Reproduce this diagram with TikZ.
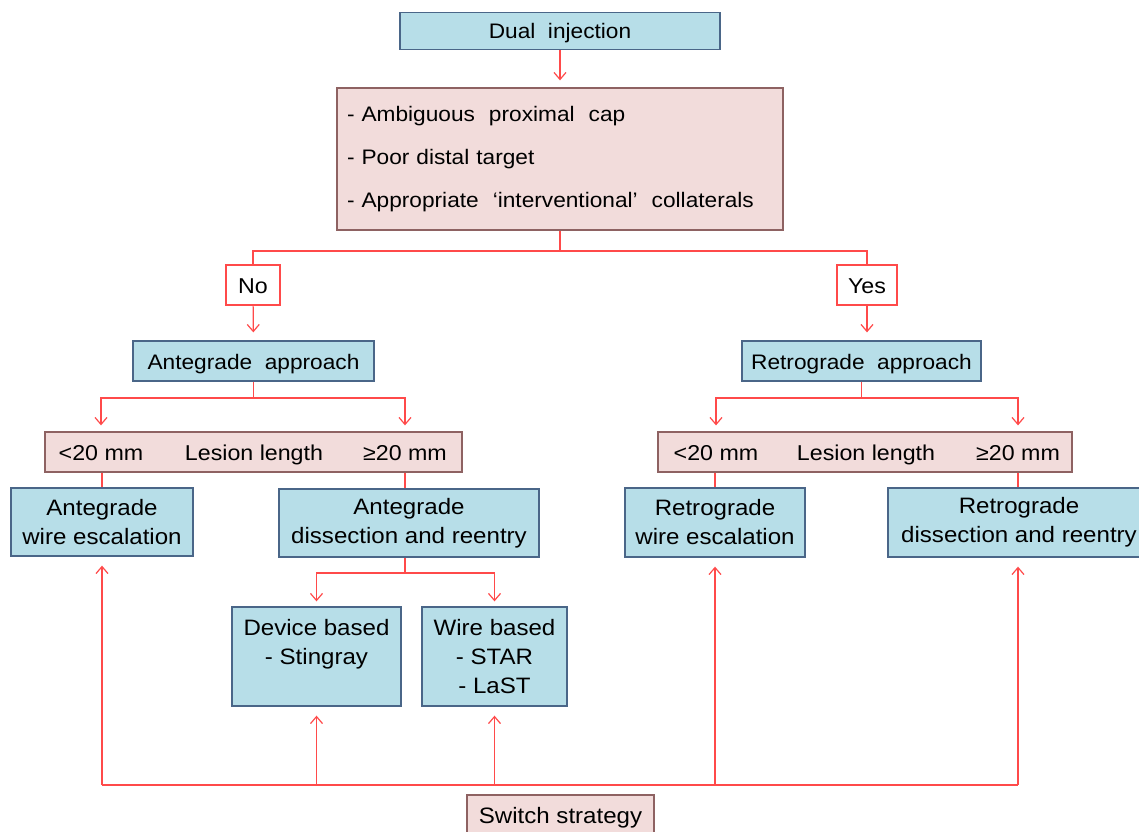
\documentclass[tikz,border=0pt]{standalone}
\usepackage{fontspec}
\setmainfont{Liberation Sans}[FakeStretch=1.08]
\usetikzlibrary{arrows.meta}
\definecolor{bfill}{HTML}{B7DEE8}
\definecolor{bdraw}{HTML}{4A6688}
\definecolor{pfill}{HTML}{F2DCDB}
\definecolor{pdraw}{HTML}{8E6262}
\definecolor{lred}{HTML}{FF4A4A}
\begin{document}
\begin{tikzpicture}[x=1pt,y=-1pt,
  every node/.style={font=\fontsize{21.5}{29}\selectfont, inner sep=0pt, text=black},
  big/.style={font=\fontsize{22.3}{29}\selectfont},
  small/.style={font=\fontsize{21}{29}\selectfont},
  bbox/.style={draw=bdraw, fill=bfill, line width=1.3pt, align=center},
  pbox/.style={draw=pdraw, fill=pfill, line width=1.3pt},
  rbox/.style={draw=lred, fill=white, line width=1.1pt},
  ln/.style={draw=lred, line width=1.2pt},
  arr/.style={ln, -{Straight Barb[length=7pt,width=12pt]}},
  lbl/.style={anchor=base},
]
\useasboundingbox (0,0) rectangle (1139,831);

% nodes
\node[bbox, small, minimum width=320pt, minimum height=37pt] (dual) at (560,31) {};
\node[lbl, small] (dualt) at (560,38) {Dual\ \ injection};
\node[pbox, minimum width=446pt, minimum height=142pt, text width=426pt, align=left,
      font=\fontsize{21}{43}\selectfont] (crit) at (560,159)
  {- Ambiguous\ \ proximal\ \ cap\\- Poor distal target\\- Appropriate\ \ ‘interventional’\ \ collaterals};
\node[rbox, minimum width=54pt, minimum height=40pt] (no) at (253,285) {};
\node[lbl] (not) at (253,293) {No};
\node[rbox, minimum width=60pt, minimum height=40pt] (yes) at (867,285) {};
\node[lbl] (yest) at (867,293) {Yes};
\node[bbox, minimum width=241pt, minimum height=40pt] (ante) at (253.5,361) {};
\node[lbl, small] (antet) at (253.5,369) {Antegrade\ \ approach};
\node[bbox, minimum width=239pt, minimum height=40pt] (retro) at (861.5,361) {};
\node[lbl, small] (retrot) at (861.5,369) {Retrograde\ \ approach};

\node[pbox, minimum width=417pt, minimum height=40pt] (lesL) at (253.5,452) {};
\node[lbl] (lesLa) at (101,460) {<20 mm};
\node[lbl] (lesLb) at (254,460) {Lesion length};
\node[lbl] (lesLc) at (405,460) {≥20 mm};
\node[pbox, minimum width=414pt, minimum height=40pt] (lesR) at (865,452) {};
\node[lbl] (lesRa) at (716,460) {<20 mm};
\node[lbl] (lesRb) at (866,460) {Lesion length};
\node[lbl] (lesRc) at (1018,460) {≥20 mm};

\node[bbox, big, minimum width=182pt, minimum height=68pt] (awe) at (102,522) {Antegrade\\wire escalation};
\node[bbox, big, minimum width=260pt, minimum height=68pt] (adr) at (409,523) {Antegrade\\dissection and reentry};
\node[bbox, big, minimum width=180pt, minimum height=69pt] (rwe) at (715,522.5) {Retrograde\\wire escalation};
\node[bbox, big, minimum width=262pt, minimum height=69pt] (rdr) at (1019,522.5) {Retrograde\\dissection and reentry};

\node[bbox, big, minimum width=169pt, minimum height=99pt] (dev) at (316.5,656.5) {Device based\\- Stingray\\\mbox{}};
\node[bbox, big, minimum width=145pt, minimum height=99pt] (wire) at (494.5,656.5) {Wire based\\- STAR\\- LaST};

\node[pbox, minimum width=187pt, minimum height=46pt] (sw) at (560.5,818) {};
\node[lbl, big] (swt) at (560.5,823) {Switch strategy};

% junction coordinates
\coordinate (j1) at (560,251);
\coordinate (j2) at (253.5,398);
\coordinate (j3) at (861.5,398);
\coordinate (j4) at (405,573);
\coordinate (b1) at (102,785);
\coordinate (b2) at (316.5,785);
\coordinate (b3) at (494.5,785);
\coordinate (b4) at (715,785);
\coordinate (b5) at (1018,785);

% connectors
\draw[arr, shorten >=7pt] (dual) -- (crit);
\draw[ln] (crit.south) -- (j1);
\draw[ln] (no.north) |- (j1) -| (yes.north);
\draw[arr, shorten >=8pt] (no) -- (ante);
\draw[arr, shorten >=8pt] (yes.south) -- (yes.south |- retro.north);

\draw[ln] (ante.south) -- (j2);
\draw[arr, shorten >=6pt] (j2) -| (lesLa |- lesL.north);
\draw[arr, shorten >=6pt] (j2) -| (lesLc |- lesL.north);
\draw[ln] (retro.south) -- (j3);
\draw[arr, shorten >=6pt] (j3) -| (lesRa |- lesR.north);
\draw[arr, shorten >=6pt] (j3) -| (lesRc |- lesR.north);

\draw[ln] (awe.north |- lesL.south) -- (awe.north);
\draw[ln] (lesLc |- lesL.south) -- (lesLc |- adr.north);
\draw[ln] (rwe.north |- lesR.south) -- (rwe.north);
\draw[ln] (lesRc |- lesR.south) -- (lesRc |- rdr.north);

\draw[ln] (j4 |- adr.south) -- (j4);
\draw[arr, shorten >=5pt] (j4) -| (dev.north);
\draw[arr, shorten >=5pt] (j4) -| (wire.north);

\draw[ln] (b1) -- (b5);
\draw[arr, shorten >=9pt] (b1) -- (awe.south);
\draw[arr, shorten >=9pt] (b2) -- (dev.south);
\draw[arr, shorten >=9pt] (b3) -- (wire.south);
\draw[arr, shorten >=9pt] (b4) -- (rwe.south);
\draw[arr, shorten >=9pt] (b5) -- (b5 |- rdr.south);
\end{tikzpicture}
\end{document}
